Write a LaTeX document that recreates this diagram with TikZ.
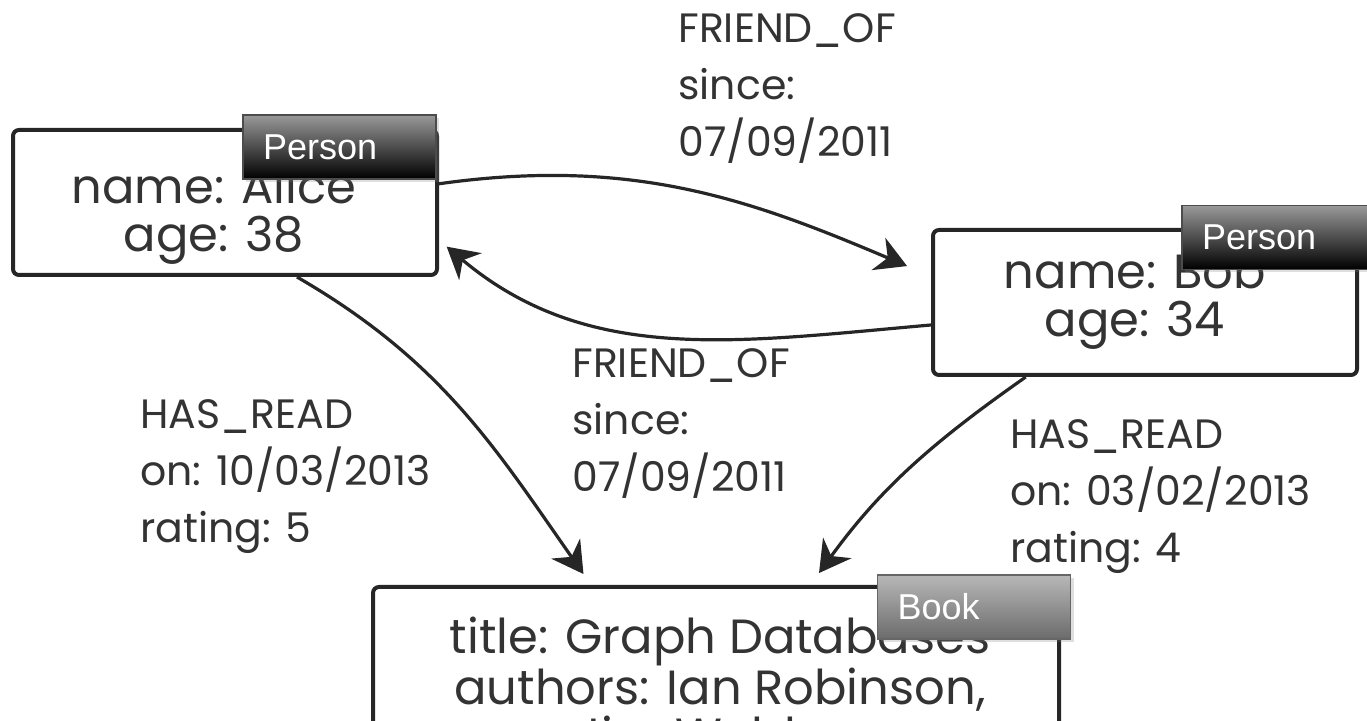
\documentclass[tikz,border=0pt]{standalone}
\usepackage{fontspec}
\setmainfont{Poppins}
\newfontfamily\tagfont{Liberation Sans}
\usetikzlibrary{arrows.meta,shadows}

\begin{document}
\begin{tikzpicture}[
  x=0.5pt, y=0.5pt,
  entity/.style={rectangle, draw=black!85, line width=2pt, rounded corners=3pt,
    minimum width=212pt, minimum height=72.5pt},
  props/.style={align=center, inner sep=0pt, anchor=north, text=black!80,
    font=\fontsize{24}{24}\selectfont},
  relprops/.style={align=left, inner sep=0pt, anchor=north west, text=black!80,
    font=\fontsize{20.5}{28.5}\selectfont},
  tagbox/.style={rectangle, draw=black!70, line width=0.6pt, minimum width=96.5pt,
    minimum height=32pt, text width=76.5pt, inner xsep=10pt, align=left, text=white,
    font=\tagfont\fontsize{18}{18}\selectfont,
    drop shadow={opacity=0.25, shadow xshift=1.5pt, shadow yshift=-1.5pt}},
  persontag/.style={tagbox, top color=black!40, bottom color=black},
  booktag/.style={tagbox, draw=black!60, top color=black!28, bottom color=black!58},
  rel/.style={draw=black!85, line width=1.6pt,
    -{Stealth[length=15.5pt, width=17.5pt, inset=5pt]}}
]
  \useasboundingbox (0,0) rectangle (1367,-721);

  % Entity boxes
  \node[entity] (alice) at (225,-202.5) {};
  \node[entity] (bob) at (1145,-302.5) {};
  \node[entity, minimum width=343pt, minimum height=106.5pt] (book) at (716,-693.5) {};

  % Properties inside the boxes
  \node[props] (alicetext) at (214,-166.5) {name: Alice\\age: 38};
  \node[props] (bobtext) at (1135,-252.5) {name: Bob\\age: 34};
  \node[props] (booktext) at (720,-616.5) {title: Graph Databases\\authors: Ian Robinson,\\Jim Webber};

  % Type tags on the box corners
  \node[persontag] (alicetag) at (339.5,-147) {Person};
  \node[persontag] (bobtag) at (1278.5,-237.5) {Person};
  \node[booktag] (booklabel) at (974,-607) {Book};

  % Relationships
  \draw[rel, shorten >=13pt] (alice.5) to[out=8, in=157] (bob.173);
  \draw[rel, shorten >=5pt] (bob.186) to[out=185, in=-40] (alice.-10);
  \draw[rel, shorten >=6.7pt] (alice.-46) to[out=-30, in=125] (book.139);
  \draw[rel, shorten >=7.4pt] (bob.212) to[out=215, in=54] (book.49);

  % Relationship properties
  \node[relprops] (friendtop) at (678,-13.3) {FRIEND\_OF\\since:\\07/09/2011};
  \node[relprops] (friendmid) at (572,-348.3) {FRIEND\_OF\\since:\\07/09/2011};
  \node[relprops] (readleft) at (140,-399.3) {HAS\_READ\\on: 10/03/2013\\rating: 5};
  \node[relprops] (readright) at (1010,-419.3) {HAS\_READ\\on: 03/02/2013\\rating: 4};
\end{tikzpicture}
\end{document}
